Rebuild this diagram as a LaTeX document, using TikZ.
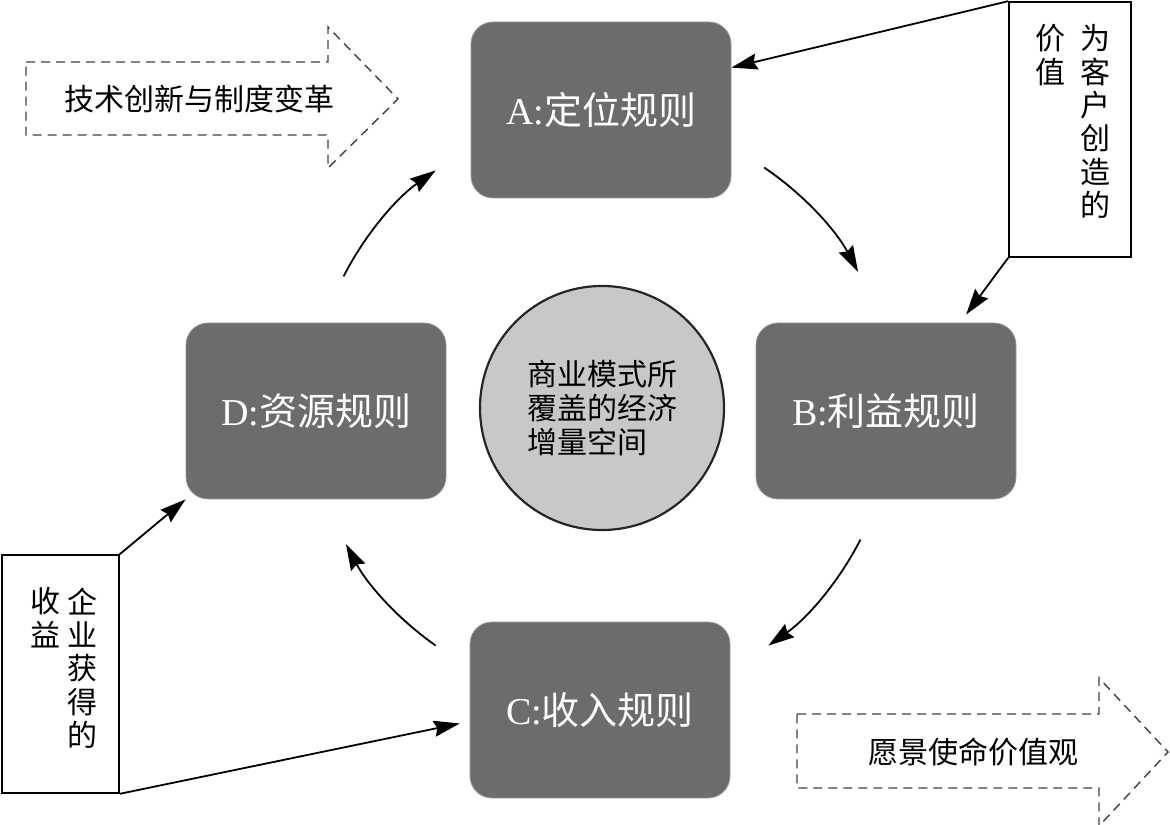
\documentclass[tikz,border=0pt]{standalone}
\usepackage{fontspec}
\setmainfont{Liberation Serif}
\newfontfamily\cjk{Noto Sans CJK SC}
\usetikzlibrary{arrows.meta, calc}
\definecolor{ruleGray}{RGB}{108,108,108}
\definecolor{hubGray}{RGB}{200,200,200}
\tikzset{%
  >={Stealth[length=13pt, width=8pt, inset=1.5pt]},
  % Specifications for style of nodes:
    ruleBox/.style = {rectangle, rounded corners=11pt, draw=black!40, fill=ruleGray,
                   minimum width=130pt, minimum height=88pt, text=white,
                   font=\fontsize{19}{23}\selectfont},
    hub/.style = {circle, draw=black!85, line width=1.1pt, fill=hubGray, minimum size=122pt,
                   align=left, font=\cjk\fontsize{15}{17}\selectfont},
    noteBox/.style = {rectangle, draw=black, line width=0.8pt, fill=white},
    vertText/.style = {inner sep=0pt, align=center, font=\cjk\fontsize{15}{16.7}\selectfont},
    bannerText/.style = {inner sep=0pt, font=\cjk\fontsize{15}{18}\selectfont},
    banner/.style = {draw=black!75, line width=0.7pt, dash pattern=on 4.5pt off 3pt},
    flow/.style = {->, line width=0.9pt},
}

\begin{document}
\begin{tikzpicture}[x=0.5pt, y=0.5pt]
  \useasboundingbox (0,0) rectangle (1170,824);

  \node (hub)        [hub] at (602,416)      {商业模式所\\覆盖的经济\\增量空间};
  \node (posA)       [ruleBox] at (601,714)  {A:{\cjk 定位规则}};
  \node (posB)       [ruleBox] at (886,413)  {B:{\cjk 利益规则}};
  \node (posC)       [ruleBox] at (600,114)  {C:{\cjk 收入规则}};
  \node (posD)       [ruleBox] at (316,413)  {D:{\cjk 资源规则}};

  \node (valueBox)   [noteBox, minimum width=61pt, minimum height=127.5pt] at (1070,694.5) {};
  \node (valueColR)  [vertText, anchor=north] at ($(valueBox.north east)+(-36,-23)$)
                                                {为\\客\\户\\创\\造\\的};
  \node (valueColL)  [vertText, anchor=north] at ($(valueColR.north)+(-45,0)$)
                                                {价\\值};

  \node (profitBox)  [noteBox, minimum width=58.5pt, minimum height=119pt] at (60.5,150) {};
  \node (profitColR) [vertText, anchor=north] at ($(profitBox.north east)+(-37,-33)$)
                                                {企\\业\\获\\得\\的};
  \node (profitColL) [vertText, anchor=north] at ($(profitColR.north)+(-37,0)$)
                                                {收\\益};

  % dashed banners
  \draw[banner] (26,762) -- (328,762) -- (328,797) -- (398,725) -- (328,656)
                -- (328,689) -- (26,689) -- cycle;
  \node (techLabel)   [bannerText] at (199,725) {技术创新与制度变革};
  \draw[banner] (797,110) -- (1099,110) -- (1099,146) -- (1168,72) -- (1099,-2)
                -- (1099,36) -- (797,36) -- cycle;
  \node (visionLabel) [bannerText] at (973,72)  {愿景使命价值观};

  % Specification of lines between nodes
  \draw[flow]                   (valueBox.north west) -- (posA.18);
  \draw[flow, shorten >=5pt]    (valueBox.south west) -- (posB.50);
  \draw[flow]                   (profitBox.north east) -- (posD.south west);
  \draw[flow, shorten >=5pt]    (profitBox.south east) -- (posC.185);
  \foreach \from/\to in {56/28, -27/-55, -125/-152, 153/125}
    \draw[flow] ($(hub.center)+(\from:290)$) arc[start angle=\from, end angle=\to, radius=290];
\end{tikzpicture}
\end{document}
